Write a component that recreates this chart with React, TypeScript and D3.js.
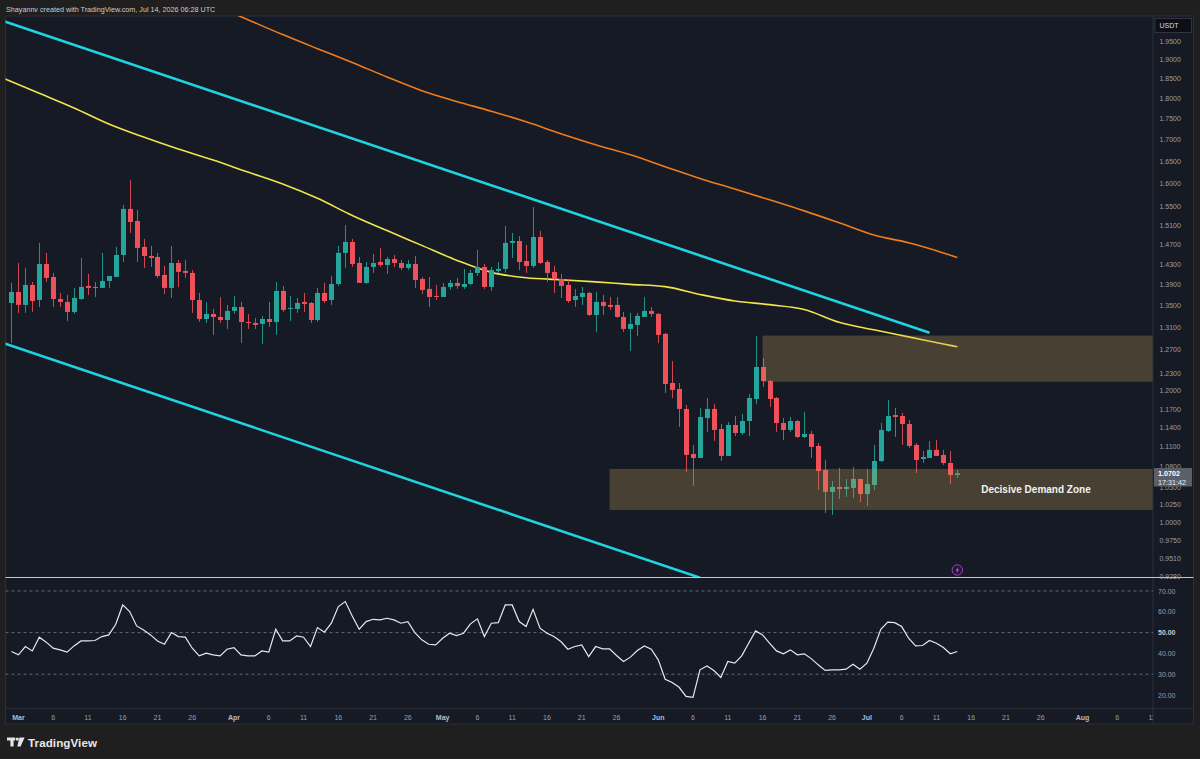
import React from 'react';
import * as d3 from 'd3';

// ---------- DATA ----------
const firstDay = '2026-02-28';

// daily candles, Feb 28 -> Jul 14 2026
const opens = [
  1.3556,
  1.3765, 1.3519, 1.3899, 1.3612, 1.4310, 1.4054, 1.3631, 1.3575, 1.3388, 1.3631, 1.3880, 1.3861, 1.3842, 1.3976, 1.4054, 1.4490, 1.5446, 1.5189, 1.4652, 1.4470, 1.4450, 1.4094, 1.3842, 1.4330, 1.4172, 1.4133, 1.3612, 1.3258, 1.3351, 1.3295, 1.3239,
  1.3407, 1.3481, 1.3203, 1.3185, 1.3167, 1.3258, 1.3203, 1.3784, 1.3444, 1.3444, 1.3575, 1.3556, 1.3239, 1.3746, 1.3612, 1.3918, 1.4531, 1.4754, 1.4330, 1.3938, 1.4251, 1.4349, 1.4290, 1.4409, 1.4330, 1.4231, 1.4310, 1.4015, 1.3823, 1.3689,
  1.3669, 1.3861, 1.3938, 1.3861, 1.3918, 1.4133, 1.4251, 1.3861, 1.4172, 1.4212, 1.4734, 1.4774, 1.4369, 1.4271, 1.4856, 1.4349, 1.4153, 1.4015, 1.3899, 1.3612, 1.3669, 1.3746, 1.3332, 1.3575, 1.3519, 1.3519, 1.3295, 1.3076, 1.3149, 1.3295, 1.3407,
  1.3351, 1.2986, 1.2131, 1.2031, 1.1702, 1.0993, 1.0932, 1.1556, 1.1702, 1.1381, 1.0963, 1.1444, 1.1318, 1.1507, 1.1865, 1.2404, 1.2164, 1.1881, 1.1476, 1.1365, 1.1507, 1.1255, 1.1302, 1.1116, 1.0752, 1.0429, 1.0501, 1.0472, 1.0487, 1.0618,
  1.0399, 1.0530, 1.0886, 1.1350, 1.1604, 1.1588, 1.1460, 1.1131, 1.0916, 1.0932, 1.1055, 1.0978, 1.0856, 1.0677,
];
const highs = [
  1.3938,
  1.4330, 1.4231, 1.3957, 1.4734, 1.4531, 1.4133, 1.3746, 1.3708, 1.3842, 1.4430, 1.4113, 1.3957, 1.4531, 1.4074, 1.4652, 1.5532, 1.6079, 1.5424, 1.4815, 1.4673, 1.4531, 1.4271, 1.4673, 1.4389, 1.4389, 1.4192, 1.3746, 1.3575, 1.3444, 1.3669, 1.3519,
  1.3689, 1.3575, 1.3351, 1.3277, 1.3314, 1.3575, 1.3957, 1.3880, 1.3689, 1.3650, 1.3746, 1.3575, 1.3842, 1.3938, 1.4074, 1.4673, 1.5106, 1.4815, 1.4450, 1.4349, 1.4511, 1.4632, 1.4450, 1.4490, 1.4389, 1.4389, 1.4470, 1.4054, 1.4054, 1.3899,
  1.3938, 1.3995, 1.4035, 1.4212, 1.4192, 1.4592, 1.4310, 1.4251, 1.4349, 1.5085, 1.4939, 1.4877, 1.4693, 1.5489, 1.4981, 1.4389, 1.4271, 1.4113, 1.4015, 1.3823, 1.3861, 1.3765, 1.3765, 1.3708, 1.3669, 1.3669, 1.3388, 1.3370, 1.3370, 1.3669, 1.3481,
  1.3370, 1.3004, 1.2507, 1.2131, 1.1767, 1.1131, 1.1718, 1.1881, 1.1783, 1.1460, 1.1491, 1.1588, 1.1621, 1.1948, 1.2950, 1.2560, 1.2181, 1.1898, 1.1556, 1.1572, 1.1523, 1.1653, 1.1350, 1.1162, 1.0901, 1.0588, 1.0782, 1.0618, 1.0797, 1.0618,
  1.0767, 1.1131, 1.1476, 1.1848, 1.1718, 1.1637, 1.1523, 1.1162, 1.1039, 1.1193, 1.1208, 1.1055, 1.1039, 1.0752,
];
const lows = [
  1.2824,
  1.3370, 1.3370, 1.3388, 1.3481, 1.3957, 1.3481, 1.3481, 1.3221, 1.3351, 1.3612, 1.3708, 1.3669, 1.3842, 1.3842, 1.4054, 1.4349, 1.4939, 1.4349, 1.4231, 1.4251, 1.4035, 1.3727, 1.3650, 1.3861, 1.4035, 1.3370, 1.3203, 1.3185, 1.2968, 1.3185, 1.3076,
  1.3351, 1.2824, 1.3076, 1.3076, 1.2806, 1.3112, 1.2968, 1.3388, 1.3221, 1.3370, 1.3388, 1.3185, 1.3203, 1.3556, 1.3519, 1.3880, 1.4231, 1.4251, 1.3938, 1.3918, 1.4133, 1.4251, 1.4113, 1.4251, 1.4192, 1.4192, 1.3842, 1.3727, 1.3481, 1.3612,
  1.3669, 1.3804, 1.3823, 1.3823, 1.3899, 1.4074, 1.3823, 1.3784, 1.4133, 1.4133, 1.4430, 1.4192, 1.4133, 1.4231, 1.4310, 1.3957, 1.3746, 1.3650, 1.3556, 1.3481, 1.3519, 1.3314, 1.3022, 1.3332, 1.3426, 1.3277, 1.3022, 1.2683, 1.2950, 1.3295, 1.3295,
  1.2824, 1.1964, 1.1881, 1.1413, 1.0722, 1.0516, 1.0932, 1.1334, 1.1193, 1.0886, 1.0963, 1.1271, 1.1287, 1.1271, 1.1783, 1.2064, 1.1734, 1.1334, 1.1208, 1.1334, 1.1239, 1.1239, 1.0932, 1.0458, 1.0129, 1.0101, 1.0327, 1.0356, 1.0341, 1.0284,
  1.0227, 1.0458, 1.0871, 1.1334, 1.1255, 1.1131, 1.1085, 1.0707, 1.0856, 1.0932, 1.0963, 1.0826, 1.0545, 1.0633,
];
const closes = [
  1.3765,
  1.3519, 1.3899, 1.3593, 1.4310, 1.4035, 1.3631, 1.3575, 1.3388, 1.3650, 1.3861, 1.3842, 1.3842, 1.3976, 1.4074, 1.4490, 1.5446, 1.5168, 1.4632, 1.4470, 1.4430, 1.4074, 1.3842, 1.4330, 1.4153, 1.4133, 1.3612, 1.3258, 1.3351, 1.3295, 1.3239, 1.3407,
  1.3481, 1.3203, 1.3185, 1.3149, 1.3258, 1.3203, 1.3784, 1.3426, 1.3463, 1.3556, 1.3537, 1.3239, 1.3746, 1.3593, 1.3918, 1.4531, 1.4754, 1.4310, 1.3938, 1.4251, 1.4330, 1.4290, 1.4409, 1.4330, 1.4231, 1.4310, 1.3995, 1.3804, 1.3669, 1.3669,
  1.3861, 1.3938, 1.3880, 1.3918, 1.4133, 1.4251, 1.3861, 1.4192, 1.4212, 1.4734, 1.4774, 1.4349, 1.4271, 1.4856, 1.4330, 1.4133, 1.4015, 1.3880, 1.3593, 1.3689, 1.3746, 1.3332, 1.3575, 1.3500, 1.3481, 1.3295, 1.3076, 1.3167, 1.3314, 1.3407, 1.3351,
  1.2968, 1.2114, 1.2014, 1.1702, 1.0978, 1.0932, 1.1572, 1.1702, 1.1365, 1.0963, 1.1444, 1.1318, 1.1507, 1.1881, 1.2404, 1.2164, 1.1865, 1.1476, 1.1365, 1.1507, 1.1255, 1.1302, 1.1101, 1.0737, 1.0429, 1.0501, 1.0472, 1.0501, 1.0618, 1.0399,
  1.0545, 1.0886, 1.1365, 1.1588, 1.1572, 1.1460, 1.1116, 1.0901, 1.0947, 1.1055, 1.0963, 1.0856, 1.0677, 1.0702,
];

// RSI(14), same days as the candles
const rsiValues = [
  40.9,
  39.3, 43.3, 41.2, 47.8, 45.4, 42.5, 41.7, 40.6, 43.6, 46.0, 46.0, 46.2, 48.1, 48.9, 54.0, 63.3, 60.1, 53.2, 51.3, 48.9, 46.0, 44.4, 50.0, 48.1, 47.8, 42.5, 38.8, 40.1, 39.3, 38.8, 42.0,
  42.8, 39.3, 38.8, 38.8, 41.2, 40.6, 51.6, 46.0, 46.0, 48.4, 47.8, 43.3, 52.4, 50.2, 54.5, 62.5, 64.9, 58.0, 51.6, 55.3, 56.4, 56.1, 56.9, 56.1, 54.5, 55.3, 50.0, 46.5, 44.4, 44.1,
  47.3, 49.7, 48.6, 49.7, 54.2, 56.6, 48.1, 54.5, 54.8, 63.3, 63.3, 55.3, 52.9, 61.2, 52.1, 49.7, 48.1, 45.7, 42.0, 43.3, 44.1, 38.5, 43.3, 42.2, 42.2, 39.0, 36.1, 38.2, 41.4, 43.6, 42.0,
  36.9, 27.6, 26.0, 23.7, 19.3, 18.9, 32.1, 34.0, 31.8, 28.4, 36.1, 35.3, 38.8, 44.9, 50.8, 48.9, 44.9, 41.2, 39.8, 41.7, 39.3, 39.8, 37.5, 34.5, 31.8, 32.1, 32.1, 32.4, 34.8, 32.4,
  35.3, 42.5, 51.6, 55.0, 54.8, 52.9, 47.3, 43.6, 43.8, 46.2, 44.9, 42.8, 39.8, 40.9,
];

// moving averages (sampled every 5 days)
const yellowMaDates = ['2026-02-27', '2026-03-04', '2026-03-09', '2026-03-14', '2026-03-19', '2026-03-24', '2026-03-29', '2026-04-03', '2026-04-08', '2026-04-13', '2026-04-18', '2026-04-23', '2026-04-28', '2026-05-03', '2026-05-08', '2026-05-13', '2026-05-18', '2026-05-23', '2026-05-28', '2026-06-02', '2026-06-07', '2026-06-12', '2026-06-17', '2026-06-22', '2026-06-27', '2026-07-02', '2026-07-07', '2026-07-12', '2026-07-14'];
const yellowMaValues = [1.8506, 1.8135, 1.7769, 1.7379, 1.7067, 1.6785, 1.6531, 1.6256, 1.5990, 1.5675, 1.5307, 1.4988, 1.4684, 1.4385, 1.4144, 1.4039, 1.4001, 1.3959, 1.3911, 1.3867, 1.3717, 1.3593, 1.3524, 1.3433, 1.3196, 1.3060, 1.2933, 1.2806, 1.2756];

const orangeMaDates = ['2026-03-31', '2026-04-03', '2026-04-08', '2026-04-13', '2026-04-18', '2026-04-23', '2026-04-28', '2026-05-03', '2026-05-08', '2026-05-13', '2026-05-18', '2026-05-23', '2026-05-28', '2026-06-02', '2026-06-07', '2026-06-12', '2026-06-17', '2026-06-22', '2026-06-27', '2026-07-02', '2026-07-07', '2026-07-12', '2026-07-14'];
const orangeMaValues = [2.0338, 2.0085, 1.9674, 1.9293, 1.8927, 1.8550, 1.8200, 1.7932, 1.7690, 1.7431, 1.7146, 1.6884, 1.6651, 1.6378, 1.6112, 1.5879, 1.5642, 1.5404, 1.5151, 1.4895, 1.4737, 1.4531, 1.4439];

// channel trendlines (two anchors each)
const upperChannelDates = ['2026-02-27', '2026-07-10'];
const upperChannelPrices = [2.0035, 1.3008];
const lowerChannelDates = ['2026-02-27', '2026-06-07'];
const lowerChannelPrices = [1.2815, 0.9258];

// zones
const supplyZone = { start: '2026-06-16', top: 1.2956, bottom: 1.2152 };
const demandZone = { start: '2026-05-25', top: 1.0767, bottom: 1.0171, label: 'Decisive Demand Zone' };

const priceTicks = [1.95, 1.9, 1.85, 1.8, 1.75, 1.7, 1.65, 1.6, 1.55, 1.51, 1.47, 1.43, 1.39, 1.35, 1.31, 1.27, 1.23, 1.2, 1.17, 1.14, 1.11, 1.08, 1.05, 1.025, 1.0, 0.975, 0.951, 0.928];
const rsiTicks = [70, 60, 50, 40, 30, 20];
const rsiBands = [70, 50, 30];
const timeTicks = [
  '2026-03-01', '2026-03-06', '2026-03-11', '2026-03-16', '2026-03-21', '2026-03-26',
  '2026-04-01', '2026-04-06', '2026-04-11', '2026-04-16', '2026-04-21', '2026-04-26',
  '2026-05-01', '2026-05-06', '2026-05-11', '2026-05-16', '2026-05-21', '2026-05-26',
  '2026-06-01', '2026-06-06', '2026-06-11', '2026-06-16', '2026-06-21', '2026-06-26',
  '2026-07-01', '2026-07-06', '2026-07-11', '2026-07-16', '2026-07-21', '2026-07-26',
  '2026-08-01', '2026-08-06', '2026-08-11',
];
const lastPriceLabel = '1.0702';
const countdownLabel = '17:31:42';
const headerText = 'Shayannv created with TradingView.com, Jul 14, 2026 06:28 UTC';
const currencyLabel = 'USDT';

// ---------- STYLE ----------
const W = 1200;
const H = 759;
const OUTER = '#1f1f1f';
const BG = '#161a25';
const GRID = '#2a2e39';
const GREEN = '#26a69a';
const RED = '#f0505a';
const AXIS_TEXT = '#9a9ea8';
const FONT = '"Liberation Sans", Arial, sans-serif';

const L = 5.5;
const R = 1153;
const FR = 1193.5;
const TOP = 16;
const PRICE_BOTTOM = 577.5;
const RSI_TOP = 578.5;
const RSI_BOTTOM = 708.5;
const BOTTOM = 724;

const parse = d3.utcParse('%Y-%m-%d');

export default function App() {
  const start = parse(firstDay) as Date;
  const dates = opens.map((_, i) => d3.utcDay.offset(start, i));

  const x = d3
    .scaleUtc()
    .domain([parse('2026-03-01') as Date, parse('2026-07-14') as Date])
    .range([18.4, 957.3]);
  const y = d3.scaleLog().domain([0.928, 1.95]).range([576, 41]);
  const yR = d3.scaleLinear().domain([20, 70]).range([695, 591]);

  const maLine = d3
    .line<[Date, number]>()
    .x((d) => x(d[0]))
    .y((d) => y(d[1]))
    .curve(d3.curveMonotoneX);
  const straight = d3
    .line<[Date, number]>()
    .x((d) => x(d[0]))
    .y((d) => y(d[1]));
  const rsiLine = d3
    .line<number>()
    .x((_, i) => x(dates[i]))
    .y((d) => yR(d));

  const yellowPts = yellowMaDates.map((d, i) => [parse(d) as Date, yellowMaValues[i]] as [Date, number]);
  const orangePts = orangeMaDates.map((d, i) => [parse(d) as Date, orangeMaValues[i]] as [Date, number]);
  const upperPts = upperChannelDates.map((d, i) => [parse(d) as Date, upperChannelPrices[i]] as [Date, number]);
  const lowerPts = lowerChannelDates.map((d, i) => [parse(d) as Date, lowerChannelPrices[i]] as [Date, number]);

  const bodyW = 5;
  const monthFmt = d3.utcFormat('%b');

  const zoneRect = (z: { start: string; top: number; bottom: number }) => {
    const x0 = x(parse(z.start) as Date);
    return { x: x0, y: y(z.top), w: R - x0, h: y(z.bottom) - y(z.top) };
  };
  const sz = zoneRect(supplyZone);
  const dz = zoneRect(demandZone);

  const lastX = x(dates[dates.length - 1]);

  return (
    <svg
      width={W}
      height={H}
      style={{ position: 'absolute', left: 0, top: 0, display: 'block' }}
      fontFamily={FONT}
    >
      <defs>
        <clipPath id="pricePane">
          <rect x={L} y={TOP} width={R - L} height={PRICE_BOTTOM - TOP} />
        </clipPath>
        <clipPath id="rsiPane">
          <rect x={L} y={RSI_TOP} width={R - L} height={RSI_BOTTOM - RSI_TOP} />
        </clipPath>
        <clipPath id="timeAxis">
          <rect x={L} y={RSI_BOTTOM} width={R - L} height={BOTTOM - RSI_BOTTOM} />
        </clipPath>
      </defs>

      <rect x={0} y={0} width={W} height={H} fill={OUTER} />
      <text x={6} y={11.5} fontSize={7.2} fill="#c9ccd4">
        {headerText}
      </text>

      {/* chart frame */}
      <rect x={L} y={TOP} width={FR - L} height={BOTTOM - TOP} fill={BG} stroke={GRID} strokeWidth={1} />

      {/* price pane */}
      <g clipPath="url(#pricePane)">
        <path d={straight(upperPts) || ''} fill="none" stroke="#1fd3e2" strokeWidth={2.6} />
        <path d={straight(lowerPts) || ''} fill="none" stroke="#1fd3e2" strokeWidth={2.6} />
        <path d={maLine(orangePts) || ''} fill="none" stroke="#f07c1a" strokeWidth={1.6} />
        <path d={maLine(yellowPts) || ''} fill="none" stroke="#f2e44a" strokeWidth={1.6} />

        {dates.map((dt, i) => {
          const o = opens[i];
          const c = closes[i];
          const up = c >= o;
          const col = up ? GREEN : RED;
          const cx = Math.round(x(dt)) + 0.5;
          const yt = y(Math.max(o, c));
          const yb = y(Math.min(o, c));
          return (
            <g key={i}>
              <line x1={cx} x2={cx} y1={y(highs[i])} y2={y(lows[i])} stroke={col} strokeWidth={1} opacity={0.85} />
              <rect x={cx - bodyW / 2} y={yt} width={bodyW} height={Math.max(1, yb - yt)} fill={col} />
            </g>
          );
        })}

        <rect x={sz.x} y={sz.y} width={sz.w} height={sz.h} fill="rgb(200,160,90)" fillOpacity={0.29} />
        <rect x={dz.x} y={dz.y} width={dz.w} height={dz.h} fill="rgb(200,160,90)" fillOpacity={0.29} />
        <text
          x={1036}
          y={(dz.y + dz.y + dz.h) / 2 + 3.5}
          fontSize={10}
          fontWeight="bold"
          fill="#f2f2f2"
          textAnchor="middle"
        >
          {demandZone.label}
        </text>

        {/* alert marker */}
        <circle cx={lastX} cy={570} r={5.2} fill="#22182e" stroke="#a23fd0" strokeWidth={1} />
        <path
          d={`M${lastX + 1.2} ${566.8} L${lastX - 1.8} ${570.6} L${lastX} ${570.6} L${lastX - 1} ${573.4} L${lastX + 1.9} ${569.4} L${lastX + 0.1} ${569.4} Z`}
          fill="#c25fe8"
        />
      </g>

      {/* pane separators */}
      <line x1={R} x2={R} y1={TOP} y2={BOTTOM} stroke={GRID} strokeWidth={1} />
      <line x1={L} x2={FR} y1={PRICE_BOTTOM} y2={PRICE_BOTTOM} stroke="#c4c7cf" strokeWidth={1.2} />
      <line x1={L} x2={FR} y1={RSI_BOTTOM} y2={RSI_BOTTOM} stroke={GRID} strokeWidth={1} />

      {/* price axis */}
      {priceTicks.map((v) => (
        <text key={v} x={1159.5} y={y(v) + 2.5} fontSize={7} fill={AXIS_TEXT}>
          {v.toFixed(4)}
        </text>
      ))}
      <rect x={1155} y={18.5} width={36.5} height={14} fill="#0d0f14" stroke="#3a3e4a" strokeWidth={0.8} />
      <text x={1159.5} y={28} fontSize={7} fill="#d7dae1">
        {currencyLabel}
      </text>
      <rect x={1154} y={468} width={38} height={18.5} fill="#5c5f69" />
      <text x={1158} y={476} fontSize={7.2} fill="#ffffff" fontWeight="bold">
        {lastPriceLabel}
      </text>
      <text x={1158} y={484.5} fontSize={7.2} fill="#f0f0f0">
        {countdownLabel}
      </text>

      {/* RSI pane */}
      <g clipPath="url(#rsiPane)">
        {rsiBands.map((b) => (
          <line
            key={b}
            x1={L}
            x2={R}
            y1={yR(b)}
            y2={yR(b)}
            stroke="#6f737e"
            strokeWidth={0.9}
            strokeDasharray="3 3"
          />
        ))}
        <path d={rsiLine(rsiValues) || ''} fill="none" stroke="#e6e8ee" strokeWidth={1.2} />
      </g>
      {rsiTicks.map((v) => (
        <text
          key={v}
          x={1158}
          y={yR(v) + 2.5}
          fontSize={7}
          fill={v === 50 ? '#c9ccd4' : AXIS_TEXT}
          fontWeight={v === 50 ? 'bold' : 'normal'}
        >
          {v.toFixed(2)}
        </text>
      ))}

      {/* time axis */}
      <g clipPath="url(#timeAxis)">
        {timeTicks.map((t) => {
          const dt = parse(t) as Date;
          const isMonth = dt.getUTCDate() === 1;
          return (
            <text
              key={t}
              x={x(dt)}
              y={719.5}
              fontSize={7}
              fill={isMonth ? '#b8bbc4' : AXIS_TEXT}
              fontWeight={isMonth ? 'bold' : 'normal'}
              textAnchor="middle"
            >
              {isMonth ? monthFmt(dt) : String(dt.getUTCDate())}
            </text>
          );
        })}
      </g>

      {/* footer logo */}
      <g fill="#e4e4e4">
        <path d="M7 737.5 H15.2 V740.6 H13.6 V746.5 H10.4 V740.6 H7 Z" />
        <circle cx={17.3} cy={739.1} r={1.6} />
        <path d="M19.4 737.5 H24.6 L20.6 746.5 H17.3 Z" />
      </g>
      <text x={28} y={746.5} fontSize={11.6} fontWeight="bold" fill="#e8e8e8" textLength={69}>
        TradingView
      </text>
    </svg>
  );
}
